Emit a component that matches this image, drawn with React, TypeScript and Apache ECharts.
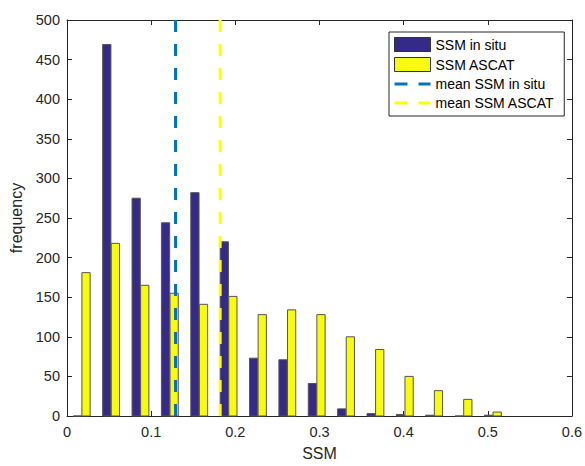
import React, { useEffect, useRef } from "react";
import * as echarts from "echarts";

// Bin centres (SSM) of the histogram
const binCenters = [0.0175, 0.0524, 0.0873, 0.1222, 0.1571, 0.192, 0.2269, 0.2618, 0.2967, 0.3316, 0.3665, 0.4014, 0.4363, 0.4712, 0.5061];
// Frequencies
const insituCounts = [0, 469, 275, 244, 282, 220, 73, 71, 41, 9, 3, 2, 1, 0, 1];
const ascatCounts = [181, 218, 165, 155, 141, 151, 128, 134, 128, 100, 84, 50, 32, 21, 5];
// Means
const meanInsitu = 0.129;
const meanAscat = 0.182;
// Axis ticks
const xTicks = [0, 0.1, 0.2, 0.3, 0.4, 0.5, 0.6];
const yTicks = [0, 50, 100, 150, 200, 250, 300, 350, 400, 450, 500];

const BAR_W = 0.0098;
const BAR_OFF = 0.0051;
const BLUE = "#352A87";
const YELLOW = "#F9FB0E";
const LINE_BLUE = "#0072BD";
const LINE_YELLOW = "#FFFF00";
const AX = "#262626";
const FONT = "Liberation Sans, Arial, sans-serif";

// dashed-line legend icon (36 x 14 box, two dashes)
const DASH_ICON =
  "path://M0,0 L0.001,0 M36,14 L35.999,14 M0,5.5 L13,5.5 L13,8.5 L0,8.5 Z M24,5.5 L36,5.5 L36,8.5 L24,8.5 Z";

function barSeries(name: string, counts: number[], offset: number, color: string) {
  return {
    name,
    type: "custom",
    xAxisIndex: 0,
    yAxisIndex: 0,
    itemStyle: { color },
    data: binCenters.map((c, i) => [c + offset, counts[i]]),
    renderItem: (_params: any, api: any) => {
      const x = api.value(0);
      const y = api.value(1);
      const p0 = api.coord([x - BAR_W / 2, y]);
      const p1 = api.coord([x + BAR_W / 2, 0]);
      return {
        type: "rect",
        shape: { x: p0[0], y: p0[1], width: p1[0] - p0[0], height: p1[1] - p0[1] },
        style: { fill: color, stroke: "#555555", lineWidth: 1 },
      };
    },
    z: 2,
  };
}

function meanSeries(name: string, x: number, color: string) {
  return {
    name,
    type: "line",
    xAxisIndex: 0,
    yAxisIndex: 0,
    symbol: "none",
    data: [
      [x, 0],
      [x, yTicks[yTicks.length - 1]],
    ],
    itemStyle: { color },
    lineStyle: { color, width: 3, type: [12, 12] },
    z: 3,
  };
}

export default function App() {
  const ref = useRef<HTMLDivElement>(null);
  useEffect(() => {
    if (!ref.current) return;
    const chart = echarts.init(ref.current, undefined, { renderer: "svg" });
    const xMin = xTicks[0];
    const xMax = xTicks[xTicks.length - 1];
    const yMin = yTicks[0];
    const yMax = yTicks[yTicks.length - 1];
    const axisCommon = {
      type: "value",
      splitLine: { show: false },
      axisLine: { show: true, onZero: false, lineStyle: { color: AX, width: 1 } },
      axisTick: { show: true, inside: true, length: 5, lineStyle: { color: AX } },
    };
    chart.setOption({
      animation: false,
      textStyle: { fontFamily: FONT },
      grid: { left: 67, right: 11, top: 20, bottom: 46, containLabel: false },
      xAxis: [
        {
          ...axisCommon,
          position: "bottom",
          min: xMin,
          max: xMax,
          interval: 0.1,
          name: "SSM",
          nameLocation: "middle",
          nameGap: 29,
          nameTextStyle: { color: AX, fontSize: 16, fontFamily: FONT },
          axisLabel: {
            color: AX,
            fontSize: 14.5,
            margin: 8,
            fontFamily: FONT,
            formatter: (v: number) => String(Number(v.toFixed(1))),
          },
        },
        {
          ...axisCommon,
          position: "top",
          min: xMin,
          max: xMax,
          interval: 0.1,
          axisLabel: { show: false },
        },
      ],
      yAxis: [
        {
          ...axisCommon,
          position: "left",
          min: yMin,
          max: yMax,
          interval: 50,
          name: "frequency",
          nameLocation: "middle",
          nameGap: 37,
          nameTextStyle: { color: AX, fontSize: 16, fontFamily: FONT },
          axisLabel: { color: AX, fontSize: 14.5, margin: 7, fontFamily: FONT },
        },
        {
          ...axisCommon,
          position: "right",
          min: yMin,
          max: yMax,
          interval: 50,
          axisLabel: { show: false },
        },
      ],
      legend: {
        orient: "vertical",
        left: 389,
        top: 32,
        padding: [5, 10, 6, 5],
        itemWidth: 36,
        itemHeight: 14,
        itemGap: 5,
        backgroundColor: "#ffffff",
        borderColor: AX,
        borderWidth: 1,
        borderRadius: 0,
        textStyle: { color: "#000000", fontSize: 14, fontFamily: FONT },
        data: [
          { name: "SSM in situ", icon: "rect", itemStyle: { color: BLUE, borderColor: "#333333", borderWidth: 1 } },
          { name: "SSM ASCAT", icon: "rect", itemStyle: { color: YELLOW, borderColor: "#333333", borderWidth: 1 } },
          { name: "mean SSM in situ", icon: DASH_ICON, itemStyle: { color: LINE_BLUE, borderWidth: 0 } },
          { name: "mean SSM ASCAT", icon: DASH_ICON, itemStyle: { color: LINE_YELLOW, borderWidth: 0 } },
        ],
      },
      series: [
        barSeries("SSM in situ", insituCounts, -BAR_OFF, BLUE),
        barSeries("SSM ASCAT", ascatCounts, BAR_OFF, YELLOW),
        meanSeries("mean SSM in situ", meanInsitu, LINE_BLUE),
        meanSeries("mean SSM ASCAT", meanAscat, LINE_YELLOW),
      ],
    });
    return () => chart.dispose();
  }, []);
  return (
    <div
      ref={ref}
      style={{ position: "fixed", left: 0, top: 0, width: 585, height: 466, background: "#ffffff" }}
    />
  );
}
